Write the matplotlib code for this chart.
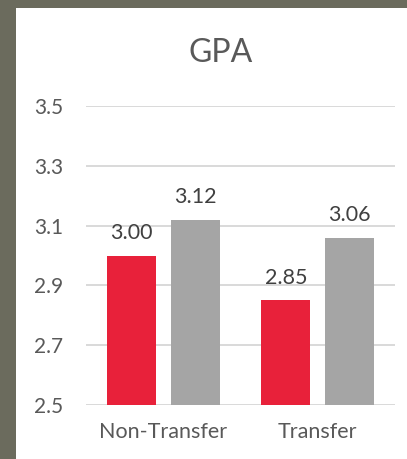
import matplotlib.pyplot as plt
import numpy as np

categories = ["Non-Transfer", "Transfer"]
series_a = [3.00, 2.85]
series_b = [3.12, 3.06]
yticks = [2.5, 2.7, 2.9, 3.1, 3.3, 3.5]

plt.rcParams['font.family'] = ['Lato', 'DejaVu Sans']

fig = plt.figure(figsize=(4.07, 4.59), dpi=100, facecolor='#6b6b5d')

# white chart panel behind the plot
bg = fig.add_axes([16 / 407, 0, 1 - 16 / 407, 1 - 8 / 459], zorder=-10)
bg.set_facecolor('white')
bg.set_xticks([])
bg.set_yticks([])
for s in bg.spines.values():
    s.set_visible(False)

ax = fig.add_axes([86 / 407, 54 / 459, 309 / 407, 299 / 459])
ax.set_facecolor('none')

x = np.arange(len(categories))
w = 0.32
off = 0.207
bars_a = ax.bar(x - off, series_a, w, color='#e8213a', zorder=3)
bars_b = ax.bar(x + off, series_b, w, color='#a5a5a5', zorder=3)

for bars in (bars_a, bars_b):
    for b in bars:
        ax.annotate(f"{b.get_height():.2f}", (b.get_x() + b.get_width() / 2, b.get_height()),
                    xytext=(0, 9), textcoords='offset points', ha='center', va='bottom',
                    fontsize=15.5, color='#404040')

ax.set_xlim(-0.5, 1.5)
ax.set_ylim(2.5, 3.5)
ax.set_yticks(yticks)
ax.set_yticklabels([f"{t:.1f}" for t in yticks], fontsize=15, color='#595959')
ax.set_xticks(x)
ax.set_xticklabels(categories, fontsize=15.5, color='#595959')
ax.tick_params(length=0)
ax.tick_params(axis='y', pad=16.5)
ax.tick_params(axis='x', pad=12)
ax.grid(axis='y', color='#d9d9d9', linewidth=1.4, zorder=0)
for s in ax.spines.values():
    s.set_visible(False)

fig.text(221 / 407, 1 - 53 / 459, "GPA", ha='center', va='center', fontsize=23, color='#595959')

plt.savefig("out.png", dpi=100, facecolor=fig.get_facecolor())
